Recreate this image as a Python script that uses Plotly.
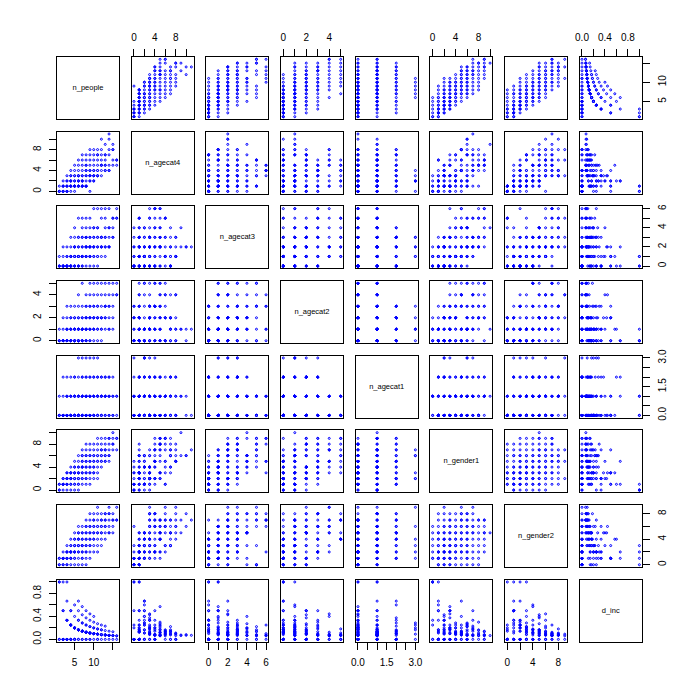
import plotly.graph_objects as go

# ---- data (one entry per household) ----
n_people = [1]*4 + [2]*7 + [3]*9 + [4]*11 + [5]*12 + [6]*13 + [7]*13 + [8]*13 + \
           [9]*12 + [10]*11 + [11]*10 + [12]*9 + [13]*8 + [14]*7 + [15]*5 + [16]*3

n_agecat4 = [1,0,0,0,
             2,1,1,0,0,0,1,
             3,2,1,0,1,0,1,2,0,
             4,2,2,0,2,1,1,3,3,1,1,
             5,2,1,0,2,3,4,1,3,1,1,1,
             6,2,3,1,1,1,4,2,5,3,1,3,2,
             7,3,1,2,1,3,4,2,5,1,6,2,1,
             7,5,2,1,1,3,3,4,6,1,4,1,5,
             8,0,2,3,3,4,5,6,4,3,2,7,
             8,3,4,2,3,5,6,2,7,3,4,
             8,3,3,4,4,5,7,6,7,3,
             10,3,5,5,5,6,8,4,7,
             9,4,6,7,7,5,5,4,
             11,4,7,4,8,10,5,
             9,5,8,6,8,
             5,6,6]

n_agecat3 = [0,0,0,1,
             0,0,0,0,0,2,1,
             0,0,1,1,0,0,2,0,0,
             0,1,1,2,0,1,3,0,0,0,1,
             0,1,2,4,0,1,0,1,2,1,3,2,
             0,1,1,1,5,2,1,2,0,1,3,0,3,
             0,2,1,1,5,2,0,1,1,3,1,3,4,
             0,2,2,2,5,1,3,1,1,4,2,3,3,
             1,3,1,5,2,3,2,2,0,2,4,1,
             1,6,2,2,3,2,1,4,0,3,4,
             1,3,3,6,2,4,2,1,0,4,
             2,5,3,2,6,3,1,3,2,
             2,6,3,1,4,2,3,5,
             2,4,3,6,2,2,4,
             4,5,3,5,3,
             6,5,5]

n_agecat2 = [0,0,1,0,
             0,1,0,0,2,0,0,
             0,0,1,1,0,3,0,1,2,
             0,0,1,2,1,0,0,1,0,3,2,
             0,1,2,0,1,1,0,3,0,2,1,0,
             0,0,1,4,0,2,1,0,0,2,1,3,1,
             0,1,5,1,0,2,1,3,1,2,0,0,1,
             0,1,1,4,2,2,1,3,0,1,2,3,0,
             0,3,5,1,2,1,2,0,3,4,2,1,
             0,1,1,5,2,3,2,4,1,3,2,
             1,2,5,0,3,2,1,4,2,3,
             0,3,2,4,1,2,1,5,2,
             1,3,2,4,2,5,3,3,
             1,5,2,3,4,1,3,
             1,5,2,3,4,
             4,5,4]

n_agecat1 = [0,1,0,0,
             0,0,1,2,0,0,0,
             0,1,0,1,2,0,0,0,1,
             0,1,0,0,1,2,0,0,1,0,0,
             0,1,0,1,2,0,1,0,0,1,0,2,
             0,3,1,0,0,1,0,2,1,0,1,0,0,
             0,1,0,3,1,0,2,1,0,1,0,2,1,
             1,0,3,1,0,2,1,0,1,2,0,1,0,
             0,3,1,0,2,1,0,1,2,0,1,0,
             1,0,3,1,2,0,1,0,2,1,0,
             1,3,0,1,2,0,1,0,2,1,
             0,1,2,1,0,1,2,0,1,
             1,0,2,1,0,1,2,1,
             0,1,2,1,0,1,2,
             1,0,2,1,0,
             1,0,1]

n_gender1 = [1,0,1,0,
             1,2,0,1,1,2,1,
             2,1,3,0,2,1,2,1,3,
             2,3,1,4,0,2,3,1,2,2,3,
             3,2,0,5,1,4,2,3,2,4,3,1,
             3,2,0,4,6,3,1,5,2,4,3,2,1,
             4,1,3,6,7,2,5,4,3,2,5,4,6,
             4,2,6,5,8,3,4,7,1,5,2,6,3,
             5,3,4,6,2,7,8,1,5,3,4,6,
             5,3,7,6,2,8,4,5,3,6,4,
             5,2,7,9,4,6,8,5,6,3,
             6,4,8,7,5,9,6,5,7,
             6,5,8,7,6,9,7,5,
             7,6,9,8,5,6,9,
             10,8,7,9,8,
             9,9,7]

n_gender2 = [0,1,0,1,
             1,0,2,1,1,0,1,
             1,2,0,3,1,2,1,2,0,
             2,1,3,0,4,2,1,3,2,2,1,
             2,3,5,0,4,1,3,2,3,1,2,4,
             3,4,6,2,0,3,5,1,4,2,3,4,5,
             3,6,4,1,0,5,2,3,4,5,2,3,1,
             4,6,2,3,0,5,4,1,7,3,6,2,5,
             4,6,5,3,7,2,1,8,4,6,5,3,
             5,7,3,4,8,2,6,5,7,4,6,
             6,9,4,2,7,5,3,6,5,8,
             6,8,4,5,7,3,6,7,5,
             7,8,5,6,7,4,6,8,
             7,8,5,6,9,8,5,
             5,7,8,6,7,
             7,7,9]

d_inc = [1,0,0,1,
         0.5,0,1,0,0.5,0,0,
         0.333,0.667,0,1,0.333,0,0,0.333,0,
         0.25,0.5,0,0.25,0.25,0,0.25,0,0.25,0,0.5,
         0.2,0.4,0,0.2,0.6,0.2,0,0.2,0.2,0,0.2,0,
         0.167,0.167,0.333,0,0.167,0.5,0.167,0.667,0.167,0,0.167,0.333,0.167,
         0.143,0.143,0,0.286,0.143,0.429,0.143,0,0.571,0.143,0.143,0.286,0.143,
         0.125,0.125,0.25,0.125,0,0.375,0.125,0.5,0.125,0.125,0,0.25,0.125,
         0.111,0,0.111,0.222,0.111,0.333,0.111,0.111,0,0.444,0.111,0.222,
         0.1,0.1,0.2,0,0.1,0.3,0.1,0.4,0.1,0.1,0.2,
         0.091,0.091,0.182,0,0.091,0.273,0.091,0.091,0,0.182,
         0.083,0.083,0.167,0.083,0.25,0.083,0,0.083,0.167,
         0.077,0.077,0.154,0.077,0,0.077,0.231,0.077,
         0.071,0.071,0.143,0.071,0,0.071,0.071,
         0.067,0.067,0,0.133,0.067,
         0.062,0,0.062]

var_names = ["n_people", "n_agecat4", "n_agecat3", "n_agecat2",
             "n_agecat1", "n_gender1", "n_gender2", "d_inc"]
var_data = [n_people, n_agecat4, n_agecat3, n_agecat2,
            n_agecat1, n_gender1, n_gender2, d_inc]

# tick positions and the labels R kept
tick_vals = [[5, 10, 15], [0, 2, 4, 6, 8, 10], [0, 1, 2, 3, 4, 5, 6], [0, 1, 2, 3, 4, 5],
             [0, 0.5, 1, 1.5, 2, 2.5, 3], [0, 2, 4, 6, 8, 10], [0, 2, 4, 6, 8],
             [0, 0.2, 0.4, 0.6, 0.8, 1.0]]
tick_text = [["5", "10", ""], ["0", "", "4", "", "8", ""], ["0", "", "2", "", "4", "", "6"],
             ["0", "", "2", "", "4", ""], ["0.0", "", "", "1.5", "", "", "3.0"],
             ["0", "", "4", "", "8", ""], ["0", "", "4", "", "8"],
             ["0.0", "", "0.4", "", "0.8", ""]]

N = len(var_names)
W, H = 700, 700
ML, MR, MT, MB = 57, 58, 57, 58
area = W - ML - MR
period = 74.67 / area
size = 62.0 / area

font_fam = "Liberation Sans, Arial, sans-serif"
tick_font = dict(family=font_fam, size=10, color="black")

fig = go.Figure()
layout = {}

def rng(v):
    lo, hi = min(v), max(v)
    pad = 0.04 * (hi - lo)
    return [lo - pad, hi + pad]

for i in range(N):
    for j in range(N):
        idx = i * N + j + 1
        sx = "" if idx == 1 else str(idx)
        xd0 = j * period
        yd1 = 1 - i * period
        xr = rng(var_data[j])
        yr = rng(var_data[i])
        xa = dict(domain=[xd0, xd0 + size], anchor="y" + sx, range=xr,
                  showline=True, mirror=True, linecolor="black", linewidth=1,
                  showgrid=False, zeroline=False, fixedrange=True)
        ya = dict(domain=[yd1 - size, yd1], anchor="x" + sx, range=yr,
                  showline=True, mirror=True, linecolor="black", linewidth=1,
                  showgrid=False, zeroline=False, fixedrange=True)
        if (i == 0 and j % 2 == 1) or (i == N - 1 and j % 2 == 0):
            xa.update(side="top" if i == 0 else "bottom", ticks="outside", ticklen=7,
                      tickwidth=1, tickcolor="black", tickvals=tick_vals[j],
                      ticktext=tick_text[j], tickfont=tick_font, showticklabels=True,
                      ticklabelstandoff=4)
        else:
            xa.update(ticks="", showticklabels=False)
        if (j == 0 and i % 2 == 1) or (j == N - 1 and i % 2 == 0):
            ya.update(side="left" if j == 0 else "right", ticks="outside", ticklen=7,
                      tickwidth=1, tickcolor="black", tickvals=tick_vals[i],
                      ticktext=tick_text[i], tickfont=tick_font, showticklabels=True,
                      tickangle=-90, ticklabelstandoff=4)
        else:
            ya.update(ticks="", showticklabels=False)
        layout["xaxis" + sx] = xa
        layout["yaxis" + sx] = ya

        if i == j:
            fig.add_trace(go.Scatter(
                x=[(xr[0] + xr[1]) / 2], y=[(yr[0] + yr[1]) / 2], mode="text",
                text=[var_names[i]], textposition="middle center",
                textfont=dict(family=font_fam, size=7.5, color="black"),
                xaxis="x" + sx, yaxis="y" + sx, hoverinfo="skip", showlegend=False))
        else:
            fig.add_trace(go.Scatter(
                x=var_data[j], y=var_data[i], mode="markers",
                xaxis="x" + sx, yaxis="y" + sx,
                marker=dict(symbol="circle-open", size=2, color="#0000FF",
                            line=dict(width=1, color="#0000FF")),
                hoverinfo="skip", showlegend=False))

fig.update_layout(**layout)
fig.update_layout(width=W, height=H, margin=dict(l=ML, r=MR, t=MT, b=MB),
                  paper_bgcolor="white", plot_bgcolor="white", showlegend=False)

fig.write_html("out.html")
